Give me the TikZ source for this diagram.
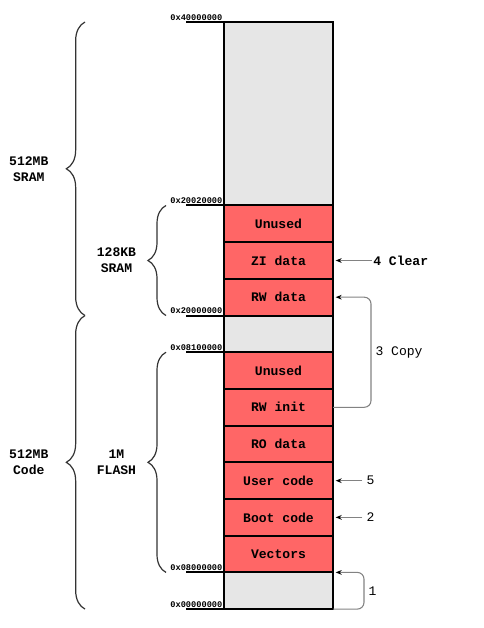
\documentclass[tikz,border=0pt]{standalone}
\usepackage{fontspec}
\setmonofont{Liberation Mono}
\usetikzlibrary{arrows.meta,positioning,calc,decorations.pathreplacing}
\definecolor{memrouge}{RGB}{255,102,102}
\definecolor{memgris}{RGB}{230,230,230}
\definecolor{memfleche}{RGB}{130,130,130}

\begin{document}
\begin{tikzpicture}[x=0.75pt,y=-0.75pt,
  bloc/.style={rectangle, draw=black, line width=1.5pt, minimum width=81.75pt,
               minimum height=27.52pt, outer sep=0pt, inner sep=0pt,
               font=\ttfamily\bfseries\fontsize{9.8}{11}\selectfont},
  ram/.style={bloc, fill=memrouge},
  libre/.style={bloc, fill=memgris},
  adresse/.style={font=\ttfamily\bfseries\fontsize{6.5}{7}\selectfont, inner sep=1pt},
  taille/.style={font=\ttfamily\bfseries\fontsize{9.8}{12}\selectfont, align=center, inner sep=0pt},
  note/.style={font=\ttfamily\fontsize{9.8}{11}\selectfont, inner sep=1pt},
  accolade/.style={decorate, decoration={brace, amplitude=#1}, line width=0.9pt, draw=black!80},
  fleche/.style={draw=memfleche, line width=0.8pt, -{Stealth[black, length=4.5pt, width=3.5pt]}, shorten >=2pt}]
  \useasboundingbox (0,0) rectangle (483,628);

  % memory column, top to bottom
  \node[libre, minimum height=137.6pt, anchor=north] (sramfree) at (278.5,22) {};
  \node[ram, below=0pt of sramfree] (unusedram) {Unused};
  \node[ram, below=0pt of unusedram] (zidata) {ZI data};
  \node[ram, below=0pt of zidata] (rwdata) {RW data};
  \node[libre, below=0pt of rwdata] (gapfree) {};
  \node[ram, below=0pt of gapfree] (unusedflash) {Unused};
  \node[ram, below=0pt of unusedflash] (rwinit) {RW init};
  \node[ram, below=0pt of rwinit] (rodata) {RO data};
  \node[ram, below=0pt of rodata] (usercode) {User code};
  \node[ram, below=0pt of usercode] (bootcode) {Boot code};
  \node[ram, below=0pt of bootcode] (vectors) {Vectors};
  \node[libre, below=0pt of vectors] (lowfree) {};

  % addresses
  \foreach \ancre/\adr [count=\i] in {sramfree.north west/0x40000000,
      unusedram.north west/0x20020000, gapfree.north west/0x20000000,
      unusedflash.north west/0x08100000, lowfree.north west/0x08000000,
      lowfree.south west/0x00000000} {
    \draw[line width=1.5pt] (\ancre) -- ++(-38,0);
    \node[adresse, anchor=south east] (adr\i) at (\ancre) {\adr};
  }

  % braces
  \draw[accolade=14pt] ($(gapfree.north west)+(-139,0)$) -- ($(sramfree.north west)+(-139,0)$)
    node[taille, midway, left=27pt] (sram512) {512MB\\SRAM};
  \draw[accolade=14pt] ($(lowfree.south west)+(-139,0)$) -- ($(gapfree.north west)+(-139,0)$)
    node[taille, midway, left=27pt] (code512) {512MB\\Code};
  \draw[accolade=13.5pt] ($(gapfree.north west)+(-58,0)$) -- ($(unusedram.north west)+(-58,0)$)
    node[taille, midway, left=22pt] (sram128) {128KB\\SRAM};
  \draw[accolade=13.5pt] ($(lowfree.north west)+(-58,0)$) -- ($(unusedflash.north west)+(-58,0)$)
    node[taille, midway, left=22pt] (flash1m) {1M\\FLASH};

  % startup steps
  \node[note, font=\ttfamily\bfseries\fontsize{9.8}{11}\selectfont, right=29pt of zidata] (clear) {4 Clear};
  \draw[fleche] (clear.west) -- (zidata.east);
  \draw[fleche, rounded corners=5pt] (rwinit.east) -- ++(38,0) |- node[note, pos=0.25, right=2pt] (copy) {3 Copy} (rwdata.east);
  \node[note, inner sep=3pt, right=22pt of usercode] (step5) {5};
  \draw[fleche] (step5.west) -- (usercode.east);
  \node[note, inner sep=3pt, right=22pt of bootcode] (step2) {2};
  \draw[fleche] (step2.west) -- (bootcode.east);
  \draw[fleche, rounded corners=5pt] (lowfree.south east) -- ++(31,0) |- node[note, pos=0.25, right=2pt] (step1) {1} (lowfree.north east);
\end{tikzpicture}
\end{document}
